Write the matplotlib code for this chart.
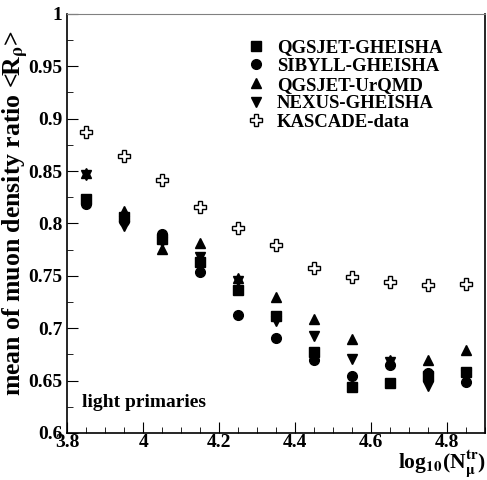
import numpy as np
import matplotlib
matplotlib.use('Agg')
import matplotlib.pyplot as plt
from matplotlib.ticker import MultipleLocator

plt.rcParams['font.family'] = 'Liberation Serif'
plt.rcParams['font.weight'] = 'bold'
plt.rcParams['mathtext.fontset'] = 'stix'
plt.rcParams['mathtext.default'] = 'bf'

# log10(N_mu^tr) bin centres
x = [3.85, 3.95, 4.05, 4.15, 4.25, 4.35, 4.45, 4.55, 4.65, 4.75, 4.85]

qgsjet_gheisha = [0.823, 0.806, 0.785, 0.763, 0.736, 0.712, 0.677, 0.644, 0.648, 0.654, 0.658]
sibyll_gheisha = [0.819, 0.802, 0.790, 0.754, 0.713, 0.691, 0.670, 0.654, 0.665, 0.657, 0.649]
qgsjet_urqmd = [0.848, 0.812, 0.776, 0.781, 0.748, 0.730, 0.709, 0.690, 0.670, 0.670, 0.679]
nexus_gheisha = [0.846, 0.798, 0.782, 0.768, 0.745, 0.707, 0.693, 0.671, 0.668, 0.645, 0.655]
kascade = [0.887, 0.864, 0.841, 0.816, 0.796, 0.779, 0.757, 0.749, 0.744, 0.741, 0.742]

fig = plt.figure(figsize=(4.87, 4.8), dpi=100)
ax = fig.add_axes([0.138, 0.098, 0.858, 0.873])

ms = 7
ax.plot(x, qgsjet_gheisha, 's', color='black', ms=ms-0.5, label='QGSJET-GHEISHA')
ax.plot(x, sibyll_gheisha, 'o', color='black', ms=ms, label='SIBYLL-GHEISHA')
ax.plot(x, qgsjet_urqmd, '^', color='black', ms=ms, label='QGSJET-UrQMD')
ax.plot(x, nexus_gheisha, 'v', color='black', ms=ms, label='NEXUS-GHEISHA')
ax.plot(x, kascade, 'P', mfc='white', mec='black', mew=1.0, ms=ms+1, label='KASCADE-data')

ax.set_xlim(3.8, 4.9)
ax.set_ylim(0.6, 1.0)
ax.xaxis.set_minor_locator(MultipleLocator(0.05))
ax.yaxis.set_minor_locator(MultipleLocator(0.025))
ax.tick_params(which='both', direction='in', top=False, right=False, labelsize=14)
ax.tick_params(which='major', length=8)
ax.tick_params(which='minor', length=4)
ax.tick_params(axis='x', pad=1)
ax.set_xticks([3.8, 4.0, 4.2, 4.4, 4.6, 4.8])
ax.set_xticklabels(['3.8', '4', '4.2', '4.4', '4.6', '4.8'])
ax.set_yticks([0.6, 0.65, 0.7, 0.75, 0.8, 0.85, 0.9, 0.95, 1.0])
ax.set_yticklabels(['0.6', '0.65', '0.7', '0.75', '0.8', '0.85', '0.9', '0.95', '1'])
ax.spines['top'].set_color('gray')
for s in ['left', 'bottom', 'right']:
    ax.spines[s].set_linewidth(1.2)

fig.text(0.032, 0.555, r'mean of muon density ratio <R$_\rho$>', fontsize=18.5,
         fontweight='bold', rotation=90, ha='center', va='center')
fig.text(0.998, 0.0, r'log$_{10}$(N$_\mu^{tr}$)', fontsize=15.5, fontweight='bold',
         ha='right', va='bottom')

ax.text(3.838, 0.625, 'light primaries', fontsize=14, fontweight='bold')

ax.legend(loc='upper left', bbox_to_anchor=(0.39, 0.98), frameon=False, fontsize=13.5,
          handletextpad=0.6, labelspacing=0.08, handlelength=1.0)

plt.savefig('out.png', dpi=100)
